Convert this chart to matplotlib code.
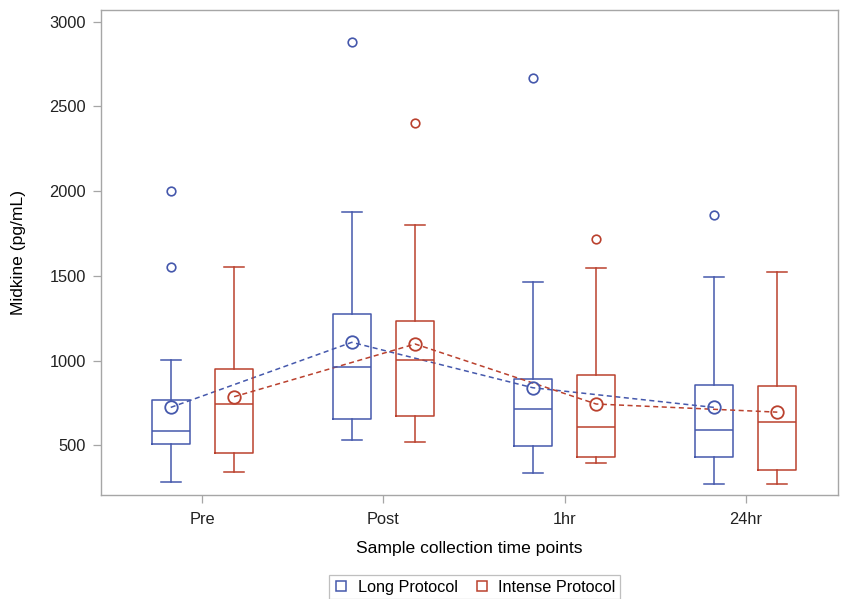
import matplotlib.pyplot as plt
from matplotlib.lines import Line2D

plt.rcParams['font.family'] = ['Liberation Sans', 'DejaVu Sans']

# data
times = ['Pre', 'Post', '1hr', '24hr']
groups = ['Long Protocol', 'Intense Protocol']

long_low = [282, 529, 336, 273]
long_q1 = [506, 657, 498, 433]
long_med = [584, 962, 714, 592]
long_q3 = [769, 1275, 889, 856]
long_high = [1002, 1875, 1466, 1491]
long_mean = [724, 1108, 840, 724]
long_out = [[2000, 1555], [2878], [2668], [1859]]

int_low = [344, 521, 394, 273]
int_q1 = [456, 673, 433, 352]
int_med = [746, 1003, 610, 639]
int_q3 = [952, 1234, 913, 848]
int_high = [1554, 1802, 1548, 1523]
int_mean = [787, 1098, 744, 696]
int_out = [[], [2404], [1716], []]

blue = '#4558AC'
red = '#BA412E'
grey = '#A6A6A6'

fig = plt.figure(figsize=(8.41, 5.99), dpi=100)
ax = fig.add_axes([0.1201, 0.1736, 0.8763, 0.8097])

offset = 0.175
width = 0.21


def draw(low, q1, med, q3, high, mean, out, shift, color):
    stats = []
    for i in range(len(times)):
        stats.append(dict(whislo=low[i], q1=q1[i], med=med[i], q3=q3[i],
                          whishi=high[i], mean=mean[i], fliers=out[i]))
    pos = [i + shift for i in range(len(times))]
    ln = dict(color=color, linewidth=1.1)
    ax.bxp(stats, positions=pos, widths=width, showmeans=True,
           boxprops=ln, whiskerprops=ln, capprops=ln,
           medianprops=ln, capwidths=0.11,
           meanprops=dict(marker='o', markerfacecolor='none',
                          markeredgecolor=color, markersize=9,
                          markeredgewidth=1.3),
           flierprops=dict(marker='o', markerfacecolor='none',
                           markeredgecolor=color, markersize=6.2,
                           markeredgewidth=1.2),
           manage_ticks=False)
    ax.plot(pos, mean, linestyle=(0, (3.3, 2.3)), color=color, linewidth=1.1)


draw(long_low, long_q1, long_med, long_q3, long_high, long_mean, long_out,
     -offset, blue)
draw(int_low, int_q1, int_med, int_q3, int_high, int_mean, int_out,
     offset, red)

ax.set_xlim(-0.56, 3.51)
ax.set_ylim(207, 3069)
ax.set_xticks(range(len(times)))
ax.set_xticklabels(times)
ax.set_yticks([500, 1000, 1500, 2000, 2500, 3000])
ax.tick_params(colors=grey, labelcolor='#222222', labelsize=11.8,
               length=6, width=0.9)
ax.tick_params(axis='x', pad=6)
ax.tick_params(axis='y', pad=5)
for s in ax.spines.values():
    s.set_color(grey)
    s.set_linewidth(1.0)

ax.set_xlabel('Sample collection time points', fontsize=12.6)
ax.set_ylabel('Midkine (pg/mL)', fontsize=12.6)
ax.xaxis.set_label_coords(0.5, -0.111)
ax.xaxis.label.set_va('center')
ax.yaxis.set_label_coords(-0.1126, 0.5)
ax.yaxis.label.set_va('center')

handles = [Line2D([], [], linestyle='none', marker='s', markersize=7.5,
                  markerfacecolor='none', markeredgecolor=c,
                  markeredgewidth=1.1) for c in (blue, red)]
leg = fig.legend(handles, groups, loc='center', bbox_to_anchor=(0.564, 0.02),
                 ncol=2, frameon=True, fontsize=11.7, handlelength=1.0,
                 handletextpad=0.5, columnspacing=1.0, borderpad=0.25,
                 fancybox=False, edgecolor='#B0B0B0')
leg.get_frame().set_linewidth(0.9)

fig.savefig('out.png', dpi=100)
